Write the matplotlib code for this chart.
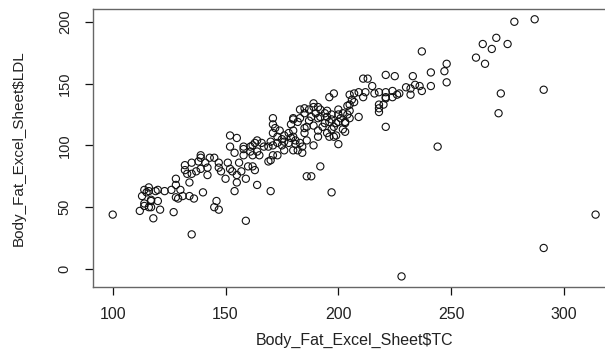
import matplotlib
matplotlib.use("Agg")
import matplotlib.pyplot as plt

x_label = "Body_Fat_Excel_Sheet$TC"
y_label = "Body_Fat_Excel_Sheet$LDL"
x_ticks = [100, 150, 200, 250, 300]
y_ticks = [0, 50, 100, 150, 200]

points = [
    (100,44),(112,47),(114,53),(114,51),(116,50),(117,55),(113,59),(114,64),(115,62),(116,66),
    (116,63),(119,63),(120,55),(121,48),(118,41),(123,63),(126,64),(127,46),(128,73),(128,68),
    (128,58),(129,57),(130,64),(131,59),(132,84),(132,80),(133,77),(134,70),(135,28),(136,57),
    (135,86),(138,87),(139,81),(139,90),(140,62),(141,86),(142,76),(143,90),(145,90),(146,55),
    (145,50),(147,48),(147,86),(147,82),(148,79),(150,73),(152,99),(151,86),(153,79),(154,63),
    (155,70),(154,94),(156,86),(157,79),(159,39),(159,73),(160,83),(161,95),(162,83),(163,80),
    (164,68),(170,63),(169,87),(171,92),(173,92),(176,96),(180,96),
    (135,77),(137,79),(134,59),(120,64),(117,56),(117,50),(139,92),
    (158,97),(164,95),(162,92),(165,92),(170,88),(152,81),(142,82),(155,76),(158,92),
    (171,122),(171,117),(172,114),(174,112),(171,110),(173,107),(175,105),(152,108),(155,106),
    (164,104),(163,102),(167,99),(169,99),(171,100),(173,102),(180,122),(179,117),(178,110),
    (176,103),(180,107),(162,100),(158,99),(166,102),(170,103),(161,99),
    (211,154),(207,142),(209,143),(205,141),(211,139),(206,137),(198,142),(196,139),(205,133),
    (204,132),(189,134),(189,131),(187,129),(192,129),(194,126),(195,128),(200,129),(197,125),
    (200,125),(201,122),(190,126),(185,126),(188,123),(191,122),(192,123),(195,123),(187,120),
    (183,122),(182,119),(180,121),(189,116),(194,118),(196,119),(199,118),(203,119),(205,122),
    (209,123),(197,113),(202,113),(203,111),(186,115),(191,112),(193,115),(191,107),(196,107),
    (199,108),(195,110),(185,110),(180,112),(176,108),(179,106),(186,104),(183,102),(175,100),
    (189,100),(200,101),(198,107),
    (178,102),(181,101),(182,96),(184,94),(184,99),(192,83),(186,75),(188,75),(197,62),(228,-6),
    (183,129),(185,130),(191,131),(204,125),(202,126),(205,128),(197,121),(200,119),(203,118),
    (198,115),(185,114),(181,104),
    (237,176),(248,166),(247,160),(241,159),(248,151),(241,148),(233,156),(225,156),(221,157),
    (213,154),(234,149),(236,148),(230,147),(232,146),(237,144),(232,141),(224,144),(226,141),
    (221,143),(221,139),(224,139),(215,148),(216,142),(218,143),(212,143),(218,133),(220,133),
    (218,127),(221,115),(244,99),(221,138),(227,142),(218,130),(207,135),
    (278,200),(287,202),(270,187),(264,182),(275,182),(268,178),(261,171),(265,166),(291,145),
    (272,142),(271,126),(291,17),(314,44),
]
tc = [p[0] for p in points]
ldl = [p[1] for p in points]

plt.rcParams['font.family'] = ['Liberation Sans', 'DejaVu Sans']
W, H = 605, 354
fig = plt.figure(figsize=(W/100, H/100), dpi=100)
left, right, top, bottom = 93.4, 614.9, 9.0, 286.7
aw, ah = right - left, bottom - top
ax = fig.add_axes([left/W, 1 - bottom/H, aw/W, ah/H])

ax.scatter(tc, ldl, s=27, facecolors='none', edgecolors='#111111', linewidths=0.8)

xmin, xmax = min(tc), max(tc)
ymin, ymax = min(ldl), max(ldl)
px = 0.04 * (xmax - xmin)
py = 0.04 * (ymax - ymin)
ax.set_xlim(xmin - px, xmax + px)
ax.set_ylim(ymin - py, ymax + py)

ax.set_xticks(x_ticks)
ax.set_yticks(y_ticks)
ax.set_xticklabels([str(t) for t in x_ticks])
ax.set_yticklabels([str(t) for t in y_ticks], rotation=90, va='center')
ax.tick_params(direction='out', length=5.5, width=0.9, color='#111111',
               labelcolor='#222222')
ax.tick_params(axis='x', labelsize=11.5, pad=9)
ax.tick_params(axis='y', labelsize=10.5, pad=10)
for s in ax.spines.values():
    s.set_color('#666666')
    s.set_linewidth(1.0)

ax.set_xlabel(x_label, fontsize=11.5, color='#222222')
ax.set_ylabel(y_label, fontsize=11, color='#222222')
ax.xaxis.set_label_coords(0.5, (bottom - 333.0) / ah)
ax.yaxis.set_label_coords((26.0 - left) / aw, 0.5)

fig.savefig("out.png", dpi=100)
